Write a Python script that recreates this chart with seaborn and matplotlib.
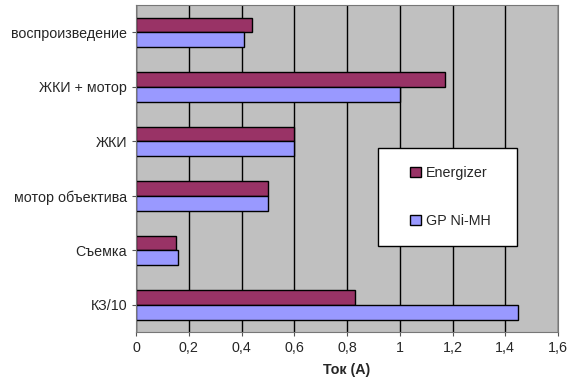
import seaborn as sns
import matplotlib.pyplot as plt
import pandas as pd
from matplotlib.patches import Rectangle

# categories top to bottom
modes = ['воспроизведение', 'ЖКИ + мотор', 'ЖКИ', 'мотор объектива', 'Съемка', 'КЗ/10']
energizer = [0.44, 1.17, 0.60, 0.50, 0.15, 0.83]
gp_nimh = [0.41, 1.00, 0.60, 0.50, 0.16, 1.45]
series = ['Energizer', 'GP Ni-MH']
xticks = [0, 0.2, 0.4, 0.6, 0.8, 1.0, 1.2, 1.4, 1.6]
xtick_labels = ['0', '0,2', '0,4', '0,6', '0,8', '1', '1,2', '1,4', '1,6']

df = pd.DataFrame({
    'mode': modes * 2,
    'series': [series[0]] * len(modes) + [series[1]] * len(modes),
    'current': energizer + gp_nimh,
})

sns.set_style('white')
plt.rcParams['font.family'] = ['Liberation Sans', 'DejaVu Sans']
fs = 10.3

fig = plt.figure(figsize=(5.72, 3.87), dpi=100)
ax = fig.add_axes([0.238, 0.142, 0.7375, 0.845])
ax.set_facecolor('#C0C0C0')

sns.barplot(data=df, y='mode', x='current', hue='series', order=modes,
            hue_order=series, palette=['#993366', '#9999FF'], orient='h',
            width=0.54, edgecolor='black', linewidth=1, saturation=1, ax=ax)

ax.set_xlim(0, 1.6)
ax.set_xticks(xticks)
ax.set_xticklabels(xtick_labels, fontsize=fs)
ax.tick_params(axis='y', labelsize=fs, length=3, left=True, color='#555555')
ax.tick_params(axis='x', length=3, bottom=True, color='#555555')
ax.xaxis.grid(True, color='black', linewidth=1)
ax.set_axisbelow(True)
ax.set_ylabel('')
ax.set_xlabel('Ток (А)', fontsize=fs, fontweight='bold', labelpad=6)
for s in ax.spines.values():
    s.set_color('#777777')
    s.set_linewidth(0.8)

# legend box like the original
box = Rectangle((0.573, 0.263), 0.329, 0.300, transform=ax.transAxes,
                facecolor='white', edgecolor='black', linewidth=1, zorder=5)
ax.add_patch(box)
leg = ax.legend(loc='center', bbox_to_anchor=(0.745, 0.413), frameon=False,
                fontsize=fs, labelspacing=2.35, borderpad=0, handlelength=0.75,
                handleheight=0.75, handletextpad=0.4, borderaxespad=0)
leg.set_zorder(6)

fig.savefig('out.png', dpi=100)
